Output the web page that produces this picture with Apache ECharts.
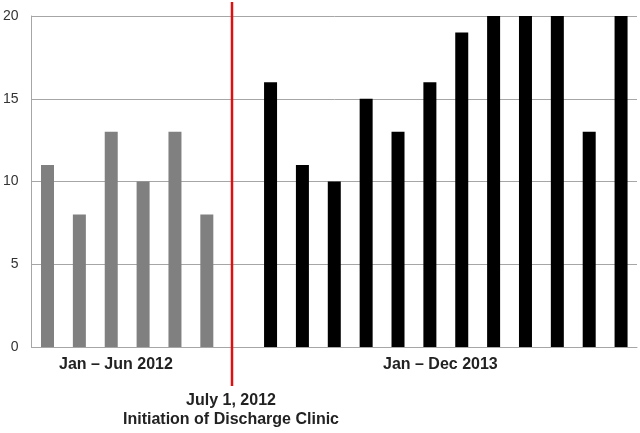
<!DOCTYPE html>
<html>
<head>
<meta charset="utf-8">
<script src="https://cdn.jsdelivr.net/npm/echarts@6/dist/echarts.min.js"></script>
<style>html,body{margin:0;padding:0;background:#fff;}#c{width:640px;height:433px;}</style>
</head>
<body>
<div id="c"></div>
<script>
const values2012 = [11, 8, 13, 10, 13, 8];
const values2013 = [16, 11, 10, 15, 13, 16, 19, 20, 20, 20, 13, 20];
const yTicks = [0, 5, 10, 15, 20];
const dividerX = 6.29;          // position on a 0..19 slot scale
const dividerYRange = [20.85, -2.36];
const groupLabels = ['Jan \u2013 Jun 2012', 'Jan \u2013 Dec 2013'];
const dividerLabels = ['July 1, 2012', 'Initiation of Discharge Clinic'];

const nSlots = values2012.length + 1 + values2013.length;
const categories = Array.from({length: nSlots}, (_, i) => 'c' + i);
const graySeries = values2012.concat(Array(nSlots - values2012.length).fill('-'));
const blackSeries = Array(values2012.length + 1).fill('-').concat(values2013);

const chart = echarts.init(document.getElementById('c'), null, {renderer: 'canvas'});
chart.setOption({
  animation: false,
  grid: {left: 30, right: 3, top: 16, bottom: 86, containLabel: false},
  xAxis: [{
    type: 'category', data: categories, boundaryGap: true,
    axisLine: {show: true, lineStyle: {color: '#a6a6a6', width: 1}},
    axisTick: {show: false}, axisLabel: {show: false}, splitLine: {show: false}
  }, {
    type: 'value', min: 0, max: nSlots, show: false
  }],
  yAxis: [{
    type: 'value', min: yTicks[0], max: yTicks[yTicks.length - 1], interval: 5,
    axisLine: {show: true, lineStyle: {color: '#a6a6a6', width: 1}},
    axisTick: {show: false},
    axisLabel: {color: '#333', fontSize: 14, fontFamily: 'Liberation Sans, Arial', margin: 13},
    splitLine: {show: true, lineStyle: {color: '#a6a6a6', width: 1}}
  }],
  series: [{
    type: 'bar', data: graySeries, barWidth: 13, barGap: '-100%',
    itemStyle: {color: '#808080'}
  }, {
    type: 'bar', data: blackSeries, barWidth: 13, barGap: '-100%',
    itemStyle: {color: '#000000'}
  }, {
    type: 'line', xAxisIndex: 1, yAxisIndex: 0, clip: false, symbol: 'none',
    data: [[dividerX, dividerYRange[0]], [dividerX, dividerYRange[1]]],
    lineStyle: {color: '#e01010', width: 2.5}
  }],
  graphic: [
    {type: 'text', left: 117 - 58, top: 357, style: {text: groupLabels[0], font: 'bold 16px "Liberation Sans", Arial', fill: '#222'}},
    {type: 'text', left: 441 - 58, top: 357, style: {text: groupLabels[1], font: 'bold 16px "Liberation Sans", Arial', fill: '#222'}},
    {type: 'text', x: 231, y: 393, style: {text: dividerLabels[0], font: 'bold 16px "Liberation Sans", Arial', fill: '#222', align: 'center'}},
    {type: 'text', x: 231, y: 412, style: {text: dividerLabels[1], font: 'bold 16px "Liberation Sans", Arial', fill: '#222', align: 'center'}}
  ]
});
</script>
</body>
</html>
